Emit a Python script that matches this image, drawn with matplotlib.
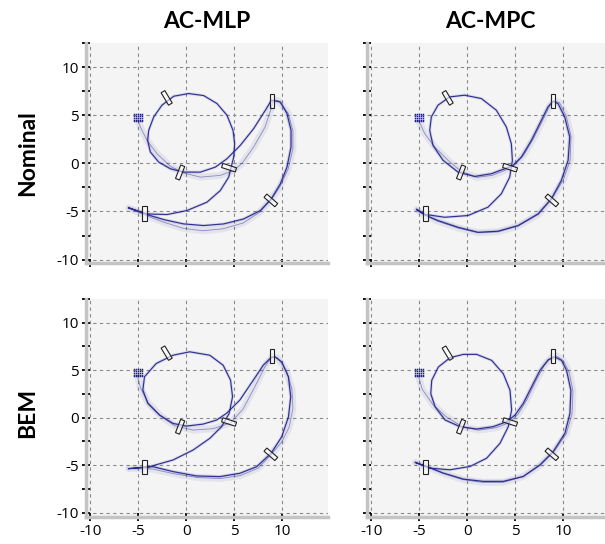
import numpy as np
import matplotlib.pyplot as plt
from matplotlib.patches import Rectangle

plt.rcParams['font.family'] = ['Open Sans', 'DejaVu Sans']
plt.rcParams['axes.unicode_minus'] = False

col_titles = ['AC-MLP', 'AC-MPC']
row_titles = ['Nominal', 'BEM']

# gates: centre, orientation of the long side (deg)
gate_x = [-2.05, 8.95, -0.65, 4.45, 8.8, -4.35]
gate_y = [6.8, 6.5, -0.95, -0.45, -3.85, -5.2]
gate_ang = [-59, 90, 69, -18, -41, 90]
gate_len, gate_wid = 1.5, 0.45

# grid of start positions
start_x = [-5.45, -5.25, -5.05, -4.85, -4.65]
start_y = [4.35, 4.55, 4.75, 4.95, 5.15]

# first lap (rollouts still spread) and second lap (converged)
mlp_nom_lap1 = [(-5.05, 4.5), (-4.79, 3.78), (-4.1, 2.39), (-3.06, 1.0), (-1.67, -0.3), (-0.28, -1.0),
                (1.46, -1.43), (3.54, -1.25), (4.93, -0.73), (5.8, 0.0), (7.01, 1.7), (8.2, 3.78),
                (8.8, 5.6), (9.05, 6.6), (9.6, 6.5), (10.6, 5.2), (11.1, 3.4), (11.1, 1.5), (10.6, -0.6),
                (9.7, -2.5), (8.85, -3.75), (7.6, -5.1), (5.9, -6.2), (3.8, -6.8), (1.7, -7.0),
                (-0.3, -6.75), (-2.4, -6.1), (-4.1, -5.45), (-6.0, -4.65)]
mlp_nom_lap2 = [(-6.01, -4.62), (-4.1, -5.25), (-2.02, -5.32), (0.07, -4.9), (2.15, -4.03), (3.54, -2.82),
                (4.41, -1.43), (4.93, 0.66), (5.03, 2.04), (4.86, 3.43), (4.23, 5.0), (3.19, 6.21),
                (1.8, 7.04), (0.24, 7.25), (-1.32, 6.97), (-2.54, 6.04), (-3.4, 4.82), (-3.92, 3.43),
                (-4.03, 2.39), (-3.75, 1.18), (-2.88, 0.13), (-1.67, -0.56), (-0.28, -0.91), (1.46, -0.91),
                (3.02, -0.39), (4.23, 0.48), (5.62, 1.87), (7.01, 3.61), (8.23, 5.52), (8.85, 6.55),
                (9.79, 6.38), (10.48, 5.17), (10.9, 3.43), (10.9, 1.7), (10.48, -0.39), (9.79, -2.12),
                (8.85, -3.68), (7.71, -4.9), (5.97, -5.77), (3.89, -6.29), (1.8, -6.46), (-0.28, -6.29),
                (-2.36, -5.84), (-4.1, -5.32), (-6.01, -4.62)]

mpc_nom_lap1 = [(-5.07, 4.45), (-4.44, 3.09), (-3.4, 1.7), (-2.01, 0.31), (-0.62, -0.85), (1.0, -1.45),
                (2.6, -1.25), (4.0, -0.7), (5.0, -0.1), (5.9, 0.9), (6.9, 2.6), (7.9, 4.6), (8.6, 6.0),
                (9.0, 6.5), (9.6, 6.3), (10.3, 4.9), (10.8, 2.8), (10.7, 0.3), (10.0, -1.7), (8.8, -3.7),
                (7.4, -5.3), (5.3, -6.5), (3.2, -7.1), (1.1, -7.2), (-1.0, -6.7), (-3.1, -6.0),
                (-4.45, -5.38), (-5.28, -4.8)]
mpc_nom_lap2 = [(-5.28, -4.76), (-4.4, -5.3), (-2.36, -5.6), (0.07, -5.42), (2.15, -4.55), (3.54, -3.16),
                (4.41, -1.43), (4.69, 0.31), (4.58, 2.04), (4.06, 3.78), (3.02, 5.52), (1.46, 6.73),
                (-0.28, 7.08), (-1.84, 6.9), (-3.06, 6.04), (-3.75, 4.82), (-3.92, 3.43), (-3.58, 1.87),
                (-2.53, 0.31), (-0.97, -0.91), (0.76, -1.36), (2.5, -1.08), (3.89, -0.56), (4.76, -0.21),
                (5.63, 0.66), (6.67, 2.39), (7.71, 4.48), (8.4, 5.87), (8.92, 6.45), (9.44, 6.21),
                (10.14, 4.82), (10.66, 2.74), (10.49, 0.31), (9.79, -1.77), (8.75, -3.68), (7.36, -5.25),
                (5.28, -6.46), (3.19, -7.05), (1.11, -7.16), (-0.97, -6.64), (-3.06, -5.94),
                (-4.44, -5.35), (-5.28, -4.83)]

mlp_bem_lap1 = [(-5.1, 4.45), (-4.8, 3.2), (-4.0, 1.6), (-2.7, 0.2), (-1.2, -0.85), (0.7, -1.3),
                (2.8, -1.15), (4.6, -0.55), (5.9, 0.9), (7.1, 3.2), (8.2, 5.4), (8.95, 6.45), (9.5, 6.3),
                (10.4, 5.0), (11.0, 3.0), (11.1, 1.0), (10.7, -1.0), (9.9, -2.6), (8.8, -3.9), (7.5, -5.3),
                (5.6, -6.1), (3.5, -6.4), (1.2, -6.3), (-1.3, -5.9), (-3.5, -5.4), (-6.0, -5.35)]
mlp_bem_lap2 = [(-5.99, -5.36), (-3.83, -5.15), (-1.39, -4.45), (0.7, -3.4), (2.44, -2.17), (3.66, -0.95),
                (4.46, 0.46), (4.81, 2.21), (4.6, 3.96), (3.83, 5.53), (2.44, 6.58), (0.35, 6.94),
                (-1.39, 6.58), (-3.14, 5.71), (-4.36, 4.31), (-4.53, 2.91), (-4.01, 1.51), (-2.79, 0.28),
                (-1.39, -0.6), (0.0, -0.88), (1.74, -0.67), (3.14, -0.25), (4.18, 0.46), (5.57, 1.86),
                (6.97, 3.96), (8.01, 5.53), (8.82, 6.34), (9.23, 6.41), (9.93, 5.88), (10.63, 4.31),
                (10.87, 2.21), (10.63, 0.1), (9.93, -2.0), (8.82, -3.75), (7.32, -5.15), (5.57, -5.85),
                (3.48, -6.2), (1.05, -6.13), (-1.39, -5.67), (-3.48, -5.15), (-5.99, -5.36)]

mpc_bem_lap1 = [(-5.1, 4.4), (-4.7, 3.0), (-3.6, 1.4), (-2.2, 0.1), (-0.5, -0.95), (1.2, -1.3),
                (3.0, -1.05), (4.4, -0.5), (5.3, 0.4), (6.2, 1.9), (7.1, 3.8), (8.0, 5.5), (8.8, 6.4),
                (9.3, 6.5), (10.0, 6.0), (10.6, 4.8), (11.0, 2.8), (10.9, 0.4), (10.3, -1.7), (9.0, -3.6),
                (7.6, -5.0), (5.8, -6.2), (3.7, -6.8), (1.6, -6.8), (-0.5, -6.5), (-2.5, -5.85),
                (-4.25, -5.15), (-5.4, -4.71)]
mpc_bem_lap2 = [(-5.41, -4.71), (-3.88, -5.31), (-1.8, -5.48), (0.28, -5.13), (2.01, -4.26), (3.4, -2.69),
                (4.26, -0.94), (4.61, 0.8), (4.44, 2.9), (3.74, 4.64), (2.53, 6.04), (0.97, 6.67),
                (-0.42, 6.67), (-1.8, 6.32), (-3.02, 5.34), (-3.71, 3.94), (-3.81, 2.55), (-3.36, 1.15),
                (-2.32, -0.24), (-0.76, -0.94), (0.97, -1.19), (2.7, -0.94), (4.09, -0.42), (4.96, 0.28),
                (5.82, 1.5), (6.69, 3.25), (7.56, 4.99), (8.42, 6.11), (9.12, 6.39), (9.81, 6.04),
                (10.33, 4.99), (10.78, 2.9), (10.68, 0.45), (10.16, -1.64), (8.94, -3.56), (7.56, -4.96),
                (5.82, -6.18), (3.74, -6.7), (1.66, -6.7), (-0.42, -6.46), (-2.5, -5.83), (-4.23, -5.13),
                (-5.41, -4.71)]

panels = [[(mlp_nom_lap1, mlp_nom_lap2), (mpc_nom_lap1, mpc_nom_lap2)],
          [(mlp_bem_lap1, mlp_bem_lap2), (mpc_bem_lap1, mpc_bem_lap2)]]

navy = '#1e1e8c'
W, H = 605, 544
fig = plt.figure(figsize=(W / 100, H / 100), dpi=100)

col_left = [86, 367]
row_top = [43, 299]
row_bot = [263, 517]

for r in range(2):
    for c in range(2):
        ax = fig.add_axes([col_left[c] / W, 1 - row_bot[r] / H, 242 / W, (row_bot[r] - row_top[r]) / H])
        ax.set_facecolor('#f4f4f4')
        lap1, lap2 = panels[r][c]
        x1, y1 = zip(*lap1)
        x2, y2 = zip(*lap2)
        ax.plot(x1, y1, color=navy, lw=5, alpha=0.08, solid_capstyle='round', solid_joinstyle='round')
        ax.plot(x1, y1, color=navy, lw=0.6, alpha=0.45, solid_joinstyle='round')
        ax.plot(x2, y2, color=navy, lw=2.2, alpha=0.12, solid_joinstyle='round')
        ax.plot(x2, y2, color=navy, lw=0.85, alpha=0.9, solid_joinstyle='round')

        gx, gy = np.meshgrid(start_x, start_y)
        ax.plot(gx.ravel(), gy.ravel(), 's', color=navy, ms=1.05, mew=0, zorder=4)

        for x, y, a in zip(gate_x, gate_y, gate_ang):
            ax.add_patch(Rectangle((x - gate_len / 2, y - gate_wid / 2), gate_len, gate_wid,
                                   angle=a, rotation_point='center', facecolor=(1, 1, 1, 0.6),
                                   edgecolor='#222222', lw=0.8, zorder=5))

        ax.set_xlim(-10.45, 14.75)
        ax.set_ylim(-10.35 if r == 0 else -10.45, 12.5)
        ax.set_xticks([-10, -5, 0, 5, 10])
        ax.set_yticks([-10, -5, 0, 5, 10])
        ax.set_yticks([-7.5, -2.5, 2.5, 7.5, 12.5], minor=True)
        ax.grid(True, which='major', linestyle=(0, (3, 3)), color='#8a8a8a', lw=0.8)
        ax.tick_params(which='both', direction='inout', length=6, width=1.3, color='black',
                       labelsize=11, pad=2)
        for s in ['top', 'right']:
            ax.spines[s].set_visible(False)
        for s in ['left', 'bottom']:
            ax.spines[s].set_color('#c4c4c4')
            ax.spines[s].set_linewidth(2.5)
        if r == 0:
            ax.tick_params(labelbottom=False)
        if c == 1:
            ax.tick_params(labelleft=False)

for c, t in enumerate(col_titles):
    fig.text([207, 490][c] / W, 1 - 22 / H, t, ha='center', va='center', fontsize=16.5,
             fontweight='bold', family=['Lato', 'DejaVu Sans'])
for r, t in enumerate(row_titles):
    fig.text(28 / W, 1 - [153, 413][r] / H, t, ha='center', va='center', rotation=90, fontsize=16.5,
             fontweight='bold', family=['Lato', 'DejaVu Sans'])

fig.savefig('out.png', dpi=100)
